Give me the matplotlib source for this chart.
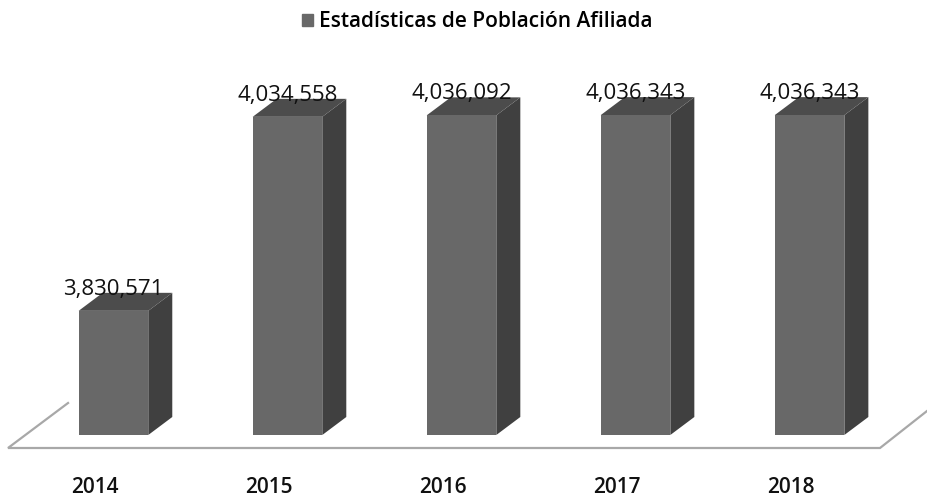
import matplotlib.pyplot as plt
from matplotlib.patches import Polygon, Patch

plt.rcParams['font.family'] = ['Open Sans', 'DejaVu Sans']

years = ['2014', '2015', '2016', '2017', '2018']
values = [3830571, 4034558, 4036092, 4036343, 4036343]
series_name = 'Estadísticas de Población Afiliada'

base = 3700000
px = 1051.5          # value units per pixel (vertical)
width = 0.4          # bar width in category units
dx = 0.138           # depth offset in x (category units)
dy = 18 * px         # depth offset in y (value units)

front_c = '#686868'
side_c = '#404040'
top_c = '#4c4c4c'

fig = plt.figure(figsize=(9.27, 5.01), dpi=100)
ax = fig.add_axes([0, 0, 1, 1])
ax.set_xlim(-0.652, 4.675)
ax.set_ylim(base - 66 * px, base + 435 * px)
ax.axis('off')

# floor
fy0 = base - 13 * px
fy1 = base + 32 * px
ax.plot([-0.261, -0.606, 4.405, 4.675], [fy1, fy0, fy0, fy0 + 37 * px],
        color='#a8a8a8', lw=1.6, zorder=1, solid_joinstyle='miter')

x = list(range(len(years)))
ax.bar(x, [v - base for v in values], width=width, bottom=base,
       color=front_c, zorder=3)
for i, v in zip(x, values):
    xl, xr = i - width / 2, i + width / 2
    ax.add_patch(Polygon([(xr, base), (xr + dx, base + dy), (xr + dx, v + dy), (xr, v)],
                         closed=True, fc=side_c, ec='none', zorder=2))
    ax.add_patch(Polygon([(xl, v), (xl + dx, v + dy), (xr + dx, v + dy), (xr, v)],
                         closed=True, fc=top_c, ec='none', zorder=2))
    ax.text(i, v + dy - 2 * px, f'{v:,}', ha='center', va='baseline',
            fontsize=16, color='#111111', zorder=4)
    ax.text(i - 0.105, base - 58 * px, years[i], ha='center', va='baseline',
            fontsize=15, color='#111111', fontweight='semibold')

ax.legend(handles=[Patch(color=front_c, label=series_name)], loc='upper center',
          bbox_to_anchor=(0.515, 1.015), frameon=False, handlelength=0.5,
          handleheight=0.5, handletextpad=0.3, fontsize=15,
          prop={'weight': 'semibold', 'size': 15})

fig.savefig('out.png', dpi=100)
